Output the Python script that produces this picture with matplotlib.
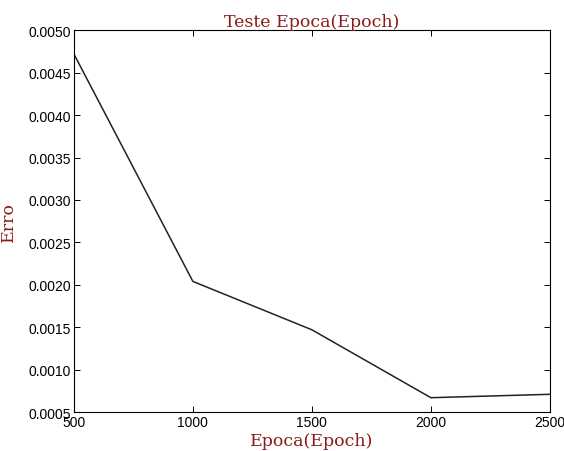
import matplotlib
matplotlib.use('Agg')
import matplotlib.pyplot as plt

# Error per epoch count
epocas = [500, 1000, 1500, 2000, 2500]
erro = [0.00472, 0.00204, 0.00147, 0.00067, 0.00071]

plt.rcParams['font.family'] = 'Liberation Sans'
plt.rcParams['xtick.direction'] = 'in'
plt.rcParams['ytick.direction'] = 'in'
plt.rcParams['xtick.top'] = True
plt.rcParams['ytick.right'] = True

fig = plt.figure(figsize=(5.64, 4.52), dpi=100)
ax = fig.add_axes([0.131, 0.086, 0.844, 0.845])
ax.plot(epocas, erro, color='#222222', linewidth=1.1)

ax.set_xlim(500, 2500)
ax.set_ylim(0.0005, 0.0050)
ax.set_xticks([500, 1000, 1500, 2000, 2500])
ax.set_yticks([0.0005 * i for i in range(1, 11)])
ax.set_yticklabels(['%.4f' % (0.0005 * i) for i in range(1, 11)])
ax.tick_params(labelsize=10, length=4, width=0.7, pad=2)

cor = '#8b1a1a'
ax.set_title('Teste Epoca(Epoch)', family='DejaVu Serif', color=cor, fontsize=12.5, pad=3)
ax.set_xlabel('Epoca(Epoch)', family='DejaVu Serif', color=cor, fontsize=12.5, labelpad=2)
ax.set_ylabel('Erro', family='DejaVu Serif', color=cor, fontsize=12.5, labelpad=8)

fig.savefig('out.png', dpi=100)
